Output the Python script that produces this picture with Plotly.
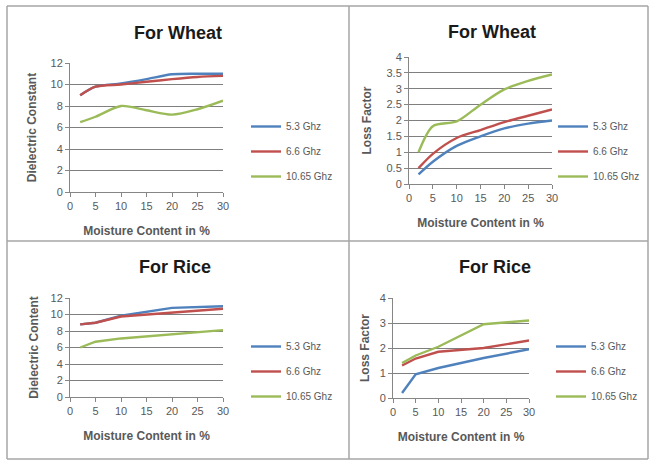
import plotly.graph_objects as go

W, H = 650, 461

series_names = ["5.3 Ghz", "6.6 Ghz", "10.65 Ghz"]
colors = ["#4F81BD", "#C0504D", "#9BBB59"]

# Panel 1: Wheat dielectric constant
wd_x = [2, 5, 10, 15, 20, 25, 30]
wd_53 = [9.0, 9.8, 10.1, 10.5, 10.95, 11.0, 11.0]
wd_66 = [9.0, 9.8, 10.0, 10.25, 10.5, 10.7, 10.8]
wd_1065 = [6.5, 7.0, 8.0, 7.6, 7.2, 7.7, 8.5]

# Panel 2: Wheat loss factor
wl_x = [2, 5, 10, 15, 20, 25, 30]
wl_53 = [0.3, 0.7, 1.2, 1.5, 1.75, 1.9, 2.0]
wl_66 = [0.5, 0.95, 1.45, 1.7, 1.95, 2.15, 2.35]
wl_1065 = [1.0, 1.82, 1.97, 2.5, 2.98, 3.25, 3.45]

# Panel 3: Rice dielectric content
rd_x = [2, 5, 10, 20, 30]
rd_53 = [8.8, 9.0, 9.85, 10.8, 11.0]
rd_66 = [8.8, 9.0, 9.75, 10.2, 10.7]
rd_1065 = [6.0, 6.7, 7.1, 7.6, 8.1]

# Panel 4: Rice loss factor
rl_x = [2, 5, 10, 20, 30]
rl_53 = [0.2, 0.95, 1.2, 1.6, 1.95]
rl_66 = [1.3, 1.58, 1.85, 2.0, 2.3]
rl_1065 = [1.4, 1.7, 2.05, 2.95, 3.1]

x_ticks = [0, 5, 10, 15, 20, 25, 30]

panels = [
    dict(title="For Wheat", ytitle="Dielectric Constant", x=wd_x,
         ys=[wd_53, wd_66, wd_1065], yr=[0, 12], dy=2, shape="spline",
         box=(70, 223, 63, 192), title_xy=(178, 33), leg=(246, 112), ystand=11),
    dict(title="For Wheat", ytitle="Loss Factor", x=wl_x,
         ys=[wl_53, wl_66, wl_1065], yr=[0, 4], dy=0.5, shape="spline",
         box=(409, 552, 57, 184), title_xy=(492, 32), leg=(553, 112), ystand=12),
    dict(title="For Rice", ytitle="Dielectric Content", x=rd_x,
         ys=[rd_53, rd_66, rd_1065], yr=[0, 12], dy=2, shape="linear",
         box=(70, 223, 298, 397), title_xy=(175, 267), leg=(246, 332), ystand=9),
    dict(title="For Rice", ytitle="Loss Factor", x=rl_x,
         ys=[rl_53, rl_66, rl_1065], yr=[0, 4], dy=1, shape="linear",
         box=(393, 529, 298, 398), title_xy=(495, 267), leg=(551, 332), ystand=7),
]

FONT = "Liberation Sans"
fig = go.Figure()
layout = dict(
    width=W, height=H, margin=dict(l=0, r=0, t=0, b=0, autoexpand=False),
    paper_bgcolor="white", plot_bgcolor="white",
    font=dict(family=FONT, color="#595959", size=10),
    annotations=[], shapes=[],
)

for i, p in enumerate(panels):
    n = "" if i == 0 else str(i + 1)
    x0, x1, y0, y1 = p["box"]
    legname = "legend" + n
    for j in range(3):
        fig.add_trace(go.Scatter(
            x=p["x"], y=p["ys"][j], mode="lines", name=series_names[j],
            line=dict(color=colors[j], width=2.4, shape=p["shape"], smoothing=0.8),
            xaxis="x" + n, yaxis="y" + n, legend=legname,
            legendgroup=f"g{i}{j}",
        ))
    layout["xaxis" + n] = dict(
        domain=[x0 / W, x1 / W], anchor="y" + n, range=[0, 30],
        tickvals=x_ticks, showgrid=False, zeroline=False,
        showline=True, linecolor="#868686", linewidth=1,
        ticks="outside", ticklen=4, tickcolor="#868686",
        tickfont=dict(size=11, color="#595959"), automargin=False,
        title=dict(text="<b>Moisture Content in %</b>", font=dict(size=12, color="#595959"), standoff=15),
    )
    layout["yaxis" + n] = dict(
        domain=[(H - y1) / H, (H - y0) / H], anchor="x" + n, range=p["yr"],
        dtick=p["dy"], showgrid=True, gridcolor="#7f7f7f", gridwidth=1,
        zeroline=False, showline=True, linecolor="#868686", linewidth=1,
        ticks="outside", ticklen=4, tickcolor="#868686",
        tickfont=dict(size=11, color="#595959"), automargin=False,
        title=dict(text="<b>" + p["ytitle"] + "</b>", font=dict(size=12, color="#595959"), standoff=p["ystand"]),
    )
    lx, ly = p["leg"]
    layout[legname] = dict(
        x=lx / W, y=(H - ly) / H, xanchor="left", yanchor="top",
        font=dict(size=10, color="#595959", family=FONT),
        bgcolor="rgba(0,0,0,0)", tracegroupgap=6, itemwidth=30,
    )
    tx, ty = p["title_xy"]
    layout["annotations"].append(dict(
        text="<b>" + p["title"] + "</b>", x=tx / W, y=(H - ty) / H,
        xref="paper", yref="paper", showarrow=False,
        font=dict(size=18, color="#1a1a1a", family=FONT),
        xanchor="center", yanchor="middle",
    ))

# chart frame borders
border = "#a6a6a6"
for (ax0, ay0, ax1, ay1) in [(7, 6, 648, 6), (7, 6, 7, 459), (7, 459, 648, 459),
                             (648, 6, 648, 459), (349, 6, 349, 459), (7, 241, 648, 241)]:
    layout["shapes"].append(dict(
        type="line", xref="paper", yref="paper",
        x0=ax0 / W, x1=ax1 / W, y0=(H - ay0) / H, y1=(H - ay1) / H,
        line=dict(color=border, width=1.5),
    ))

fig.update_layout(**layout)
fig.write_html("out.html", config={"displayModeBar": False},
               post_script="document.body.style.margin='0';")
